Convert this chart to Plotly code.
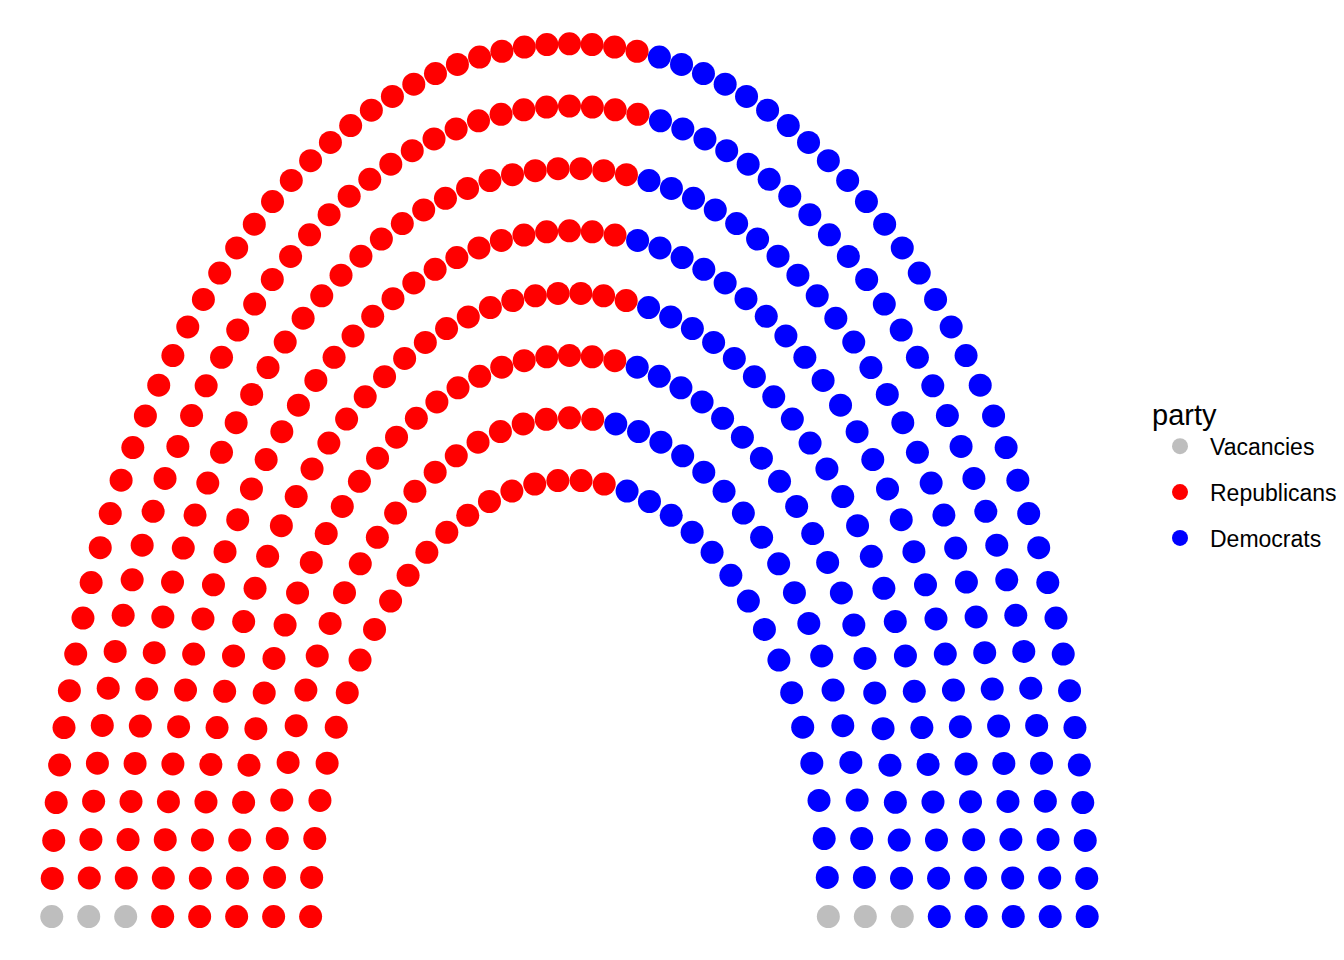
import numpy as np
import plotly.graph_objects as go

# Data: party seat counts in plotting order (left to right around the arc)
parties = ["Vacancies", "Republicans", "Democrats", "Vacancies"]
seats = [3, 236, 193, 3]
legend_order = ["Vacancies", "Republicans", "Democrats"]
party_colors = {"Vacancies": "#BEBEBE", "Republicans": "#FF0000", "Democrats": "#0000FF"}
parl_rows = 8

# Semicircle parliament layout (as in ggparliament)
total = sum(seats)
radii = np.linspace(1, 2, parl_rows)
counts = np.round(total * radii / radii.sum()).astype(int)
counts[-1] += total - counts.sum()

xs, ys, rows, thetas = [], [], [], []
for i, (r, n) in enumerate(zip(radii, counts)):
    th = np.linspace(0, np.pi, n)
    xs.append(r * np.cos(th))
    ys.append(r * np.sin(th))
    rows.append(np.full(n, i + 1))
    thetas.append(th)
xs = np.concatenate(xs); ys = np.concatenate(ys)
rows = np.concatenate(rows); thetas = np.concatenate(thetas)
order = np.lexsort((-rows, -np.round(thetas, 12)))
xs, ys = xs[order], ys[order]
labels = np.repeat(parties, seats)

fig = go.Figure()
for p in legend_order:
    m = labels == p
    fig.add_trace(go.Scatter(
        x=xs[m], y=ys[m], mode="markers", name=p, legendgroup=p,
        marker=dict(size=23, color=party_colors[p], line=dict(width=0)),
    ))

fig.update_layout(
    width=1344, height=960,
    margin=dict(l=0, r=205, t=0, b=0),
    paper_bgcolor="white", plot_bgcolor="white",
    xaxis=dict(range=[-2.169, 2.231], visible=False),
    yaxis=dict(range=[-0.118, 2.082], visible=False),
    font=dict(family="Liberation Sans, Arial, sans-serif", color="black"),
    legend=dict(
        title=dict(text="party", font=dict(size=29)),
        font=dict(size=23),
        xref="container", yref="container",
        x=1142 / 1344, y=1 - 379 / 960, xanchor="left", yanchor="top",
        tracegroupgap=13, itemsizing="trace", itemwidth=50,
        bgcolor="rgba(0,0,0,0)",
    ),
)
fig.write_html("out.html")
